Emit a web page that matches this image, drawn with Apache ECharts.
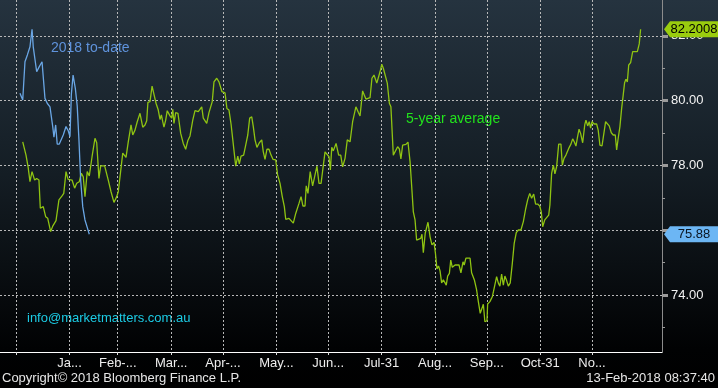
<!DOCTYPE html>
<html>
<head>
<meta charset="utf-8">
<script src="https://cdn.jsdelivr.net/npm/echarts@6/dist/echarts.min.js"></script>
<style>
html,body{margin:0;padding:0;background:#000;}
#c{width:718px;height:388px;}
</style>
</head>
<body>
<div id="c"></div>
<script>
// x = day of year (0 = Dec-31 of prior year)
const monthEndDays = [0, 31, 59, 90, 120, 151, 181, 212, 243, 273, 304, 334];
const monthLabels = ['', 'Ja...', 'Feb-...', 'Mar...', 'Apr-...', 'May...', 'Jun...', 'Jul-31', 'Aug...', 'Sep...', 'Oct-31', 'No...'];
const yMajor = [74, 76, 78, 80, 82];
const yLabelValues = [74, 78, 80, 82];
const yMinor = [73, 75, 77, 79, 81];

// 5-year average
const avgDays = [
3.9,5.8,7.0,8.1,9.3,10.8,12.0,13.3,
14.1,15.8,17.2,18.4,19.1,20.1,21.3,23.2,
24.9,26.7,27.7,29.0,30.2,31.3,32.5,34.0,
35.2,36.7,37.9,39.0,40.0,41.3,42.5,44.1,
45.8,46.8,48.1,49.1,51.4,53.5,55.1,56.8,
58.4,59.3,60.3,61.9,63.8,65.1,66.7,67.7,
69.0,70.3,71.9,73.5,74.8,75.8,76.5,77.7,
78.9,80.0,81.2,82.5,83.5,84.3,85.1,85.8,
86.8,87.7,89.3,90.3,90.9,91.6,92.6,93.9,
95.5,97.0,98.4,99.6,100.9,102.5,103.8,105.7,
107.7,108.6,110.6,111.9,112.9,113.8,114.8,116.4,
117.7,118.7,119.4,121.2,122.3,123.5,124.7,125.8,
127.4,128.6,129.5,130.5,132.0,133.2,134.4,135.5,
136.7,137.6,138.6,139.7,141.1,142.5,143.4,144.4,
145.5,146.7,147.9,149.0,150.6,151.7,153.1,154.4,
155.6,156.4,158.3,159.3,160.8,162.2,163.3,164.1,
165.3,166.4,167.6,168.3,169.3,170.6,172.0,173.4,
174.5,175.7,176.9,179.2,180.3,181.5,182.3,183.1,
184.0,185.6,187.1,188.3,189.4,190.8,192.1,193.7,
195.2,197.1,198.5,199.5,201.0,202.9,205.3,206.4,
207.6,209.2,210.3,211.1,212.1,213.0,214.0,215.3,
216.5,217.4,218.8,219.8,221.3,222.3,223.2,224.2,
226.1,227.3,228.5,229.4,230.4,231.4,232.3,233.3,
234.7,235.4,236.2,237.3,238.9,240.1,241.2,242.4,
243.2,244.1,245.0,245.9,246.8,247.8,248.8,249.5,
250.3,251.3,252.1,253.0,254.6,255.5,256.9,258.0,
259.2,259.9,260.9,261.9,263.3,264.2,265.8,267.1,
268.1,269.2,270.0,271.0,271.9,273.1,273.5,274.8,
276.2,277.3,278.7,279.7,280.6,281.6,282.6,283.5,
284.5,285.5,286.6,287.8,288.9,290.1,291.3,292.8,
294.2,295.5,296.7,297.9,299.0,300.2,301.3,302.5,
303.7,304.6,305.4,306.6,307.7,308.9,309.6,310.6,
311.6,312.5,313.5,314.7,316.0,316.8,317.8,318.9,
319.9,320.8,321.8,322.8,323.7,324.7,325.5,326.5,
327.4,328.6,329.8,330.5,331.5,332.4,333.2,334.0,
335.2,336.7,337.6,338.6,339.8,340.9,341.9,342.9,
344.0,345.2,346.3,347.5,348.3,349.2,350.2,351.2,
352.1,352.9,353.7,354.5,355.3,356.4,357.6,358.9,
360.3,361.4,362.2
];
const avgValues = [
78.73,78.32,77.96,77.50,77.81,77.55,77.60,77.55,
76.68,76.73,76.42,76.37,76.37,75.96,76.13,76.30,
76.94,77.06,77.14,77.81,77.57,77.60,77.55,77.30,
77.45,77.50,77.76,77.65,77.04,77.81,77.68,78.27,
78.84,78.70,77.60,77.99,77.99,77.55,77.19,76.86,
77.04,77.19,77.24,78.38,78.25,78.73,79.25,78.94,
79.09,79.35,79.61,79.18,79.25,79.38,79.95,79.97,
80.45,80.41,79.92,79.71,79.42,79.56,79.35,79.18,
79.40,79.69,79.53,79.46,79.73,79.30,79.63,79.61,
78.99,78.68,78.50,78.76,78.91,79.40,79.69,79.66,
79.81,79.46,79.30,79.63,79.69,79.97,80.58,80.69,
80.58,80.61,80.28,80.24,79.76,79.71,79.28,79.28,
77.98,78.29,78.05,78.29,78.32,78.63,78.94,79.46,
79.50,79.20,78.79,78.56,78.70,78.79,78.42,78.19,
78.50,78.50,78.32,78.19,78.17,77.71,77.45,77.04,
76.73,76.34,76.37,76.42,76.22,76.52,76.47,76.83,
77.04,76.75,76.75,77.37,77.14,77.81,77.37,77.71,
77.98,77.45,77.45,78.42,78.38,78.27,77.86,78.56,
78.45,78.68,78.32,78.32,77.96,78.22,78.79,78.73,
79.35,79.81,79.64,79.53,80.30,80.05,80.09,80.69,
80.79,80.54,80.57,80.89,81.12,81.00,80.98,80.54,
79.92,79.81,78.32,78.30,78.58,78.51,78.20,78.63,
78.65,78.72,78.12,77.40,76.57,76.32,75.70,75.65,
75.75,75.88,75.31,75.91,76.25,75.80,75.55,75.63,
75.30,74.81,74.90,74.75,74.38,74.47,74.38,74.31,
74.59,74.67,75.08,74.86,74.93,74.96,74.93,74.69,
75.03,74.93,75.14,75.08,75.14,74.69,74.47,74.16,
73.80,73.44,73.39,73.72,73.18,73.21,73.73,73.80,
73.95,74.00,74.57,74.37,74.28,74.65,74.31,74.59,
74.45,74.28,74.38,74.98,75.60,75.93,76.01,76.01,
76.27,76.65,76.94,77.14,76.99,77.12,76.81,76.81,
76.75,76.57,76.11,76.32,76.32,76.47,76.78,77.76,
78.01,77.74,77.96,78.66,78.66,78.01,78.22,78.32,
78.38,78.56,78.66,78.82,78.73,78.60,78.84,79.12,
78.99,78.70,79.25,79.40,79.22,79.35,79.15,79.35,
79.28,79.28,79.09,78.63,78.60,78.99,79.35,79.35,
79.22,79.01,78.94,78.94,78.48,78.84,79.20,79.76,
80.17,80.55,80.66,80.58,81.10,81.17,81.51,81.51,
81.51,81.75,82.2008
];

// 2018 to-date
const ytdDays = [2.3,3.9,5.2,6.6,8.1,9.3,10.0,12.0,13.5,15.1,16.8,18.1,19.7,21.3,22.0,23.0,23.9,25.1,27.4,29.0,30.3,31.3,32.1,33.1,34.4,35.5,36.5,37.5,38.7,40.0,41.3,42.5];
const ytdValues = [80.23,80.02,81.20,81.41,81.66,82.20,81.66,80.89,81.05,81.20,80.07,79.92,79.81,79.20,78.87,79.25,78.66,78.66,78.94,79.20,79.07,78.89,80.20,80.79,80.38,79.83,78.79,77.55,76.73,76.32,76.09,75.88];

const X_MIN = -9.28, X_MAX = 374.6;
const Y_MIN = 72.247, Y_MAX = 83.104;
const FONT = '"Liberation Sans", Arial, sans-serif';

const avgData = avgDays.map((d, i) => [d, avgValues[i]]);
const ytdData = ytdDays.map((d, i) => [d, ytdValues[i]]);
const avgLast = avgValues[avgValues.length - 1];
const ytdLast = ytdValues[ytdValues.length - 1];

const tagPath = 'path://M0,8 L6,0 L54,0 L54,16 L6,16 Z';
function endTag(value, text, fill, textColor) {
  return {
    symbol: tagPath,
    symbolSize: [54, 16],
    symbolKeepAspect: false,
    symbolOffset: [29, 0],
    silent: true,
    data: [{ coord: [X_MAX, value], value: text }],
    itemStyle: { color: fill },
    label: { show: true, position: 'inside', offset: [3, 0], color: textColor, fontSize: 13, fontFamily: FONT, formatter: '{c}' }
  };
}

const dash = { color: '#b8b8b8', width: 1, type: [2, 2] };

const chart = echarts.init(document.getElementById('c'), null, { renderer: 'canvas' });
chart.setOption({
  animation: false,
  backgroundColor: {
    type: 'linear', x: 0, y: 0, x2: 0, y2: 1,
    colorStops: [
      { offset: 0, color: '#25333f' },
      { offset: 0.45, color: '#141d24' },
      { offset: 0.9, color: '#010203' },
      { offset: 1, color: '#000000' }
    ]
  },
  grid: { left: 0, right: 56, top: 0, bottom: 36, containLabel: false },
  xAxis: {
    type: 'value', min: X_MIN, max: X_MAX,
    axisLine: { show: true, onZero: false, lineStyle: { color: '#ffffff', width: 1.2 } },
    axisTick: { show: true, customValues: monthEndDays, length: 3, lineStyle: { color: '#dddddd' } },
    axisLabel: {
      customValues: monthEndDays.slice(1),
      formatter: v => monthLabels[monthEndDays.indexOf(v)] || '',
      color: '#eeeeee', fontSize: 13, fontFamily: FONT, margin: 5
    },
    splitLine: { show: true, lineStyle: dash }
  },
  yAxis: [
    {
      type: 'value', position: 'right', min: Y_MIN, max: Y_MAX,
      axisLine: { show: true, onZero: false, lineStyle: { color: '#8c8c8c', width: 1 } },
      axisTick: { show: true, customValues: yMajor, length: 6, lineStyle: { color: '#9a9a9a', width: 3 } },
      axisLabel: { customValues: yLabelValues, formatter: v => v.toFixed(2), color: '#f2f2f2', fontSize: 13, fontFamily: FONT, margin: 9 },
      splitLine: { show: true, lineStyle: dash }
    },
    {
      type: 'value', position: 'right', min: Y_MIN, max: Y_MAX,
      axisLine: { show: false, onZero: false },
      axisTick: { show: true, customValues: yMinor, length: 3, lineStyle: { color: '#9a9a9a', width: 1 } },
      axisLabel: { show: false },
      splitLine: { show: false }
    }
  ],
  series: [
    {
      name: '5-year average', type: 'line', data: avgData, yAxisIndex: 0,
      showSymbol: false, symbol: 'none',
      lineStyle: { color: '#8fc412', width: 1.3 },
      markPoint: endTag(avgLast, avgLast.toFixed(4), '#9acd0e', '#000000'),
      z: 3
    },
    {
      name: '2018 to-date', type: 'line', data: ytdData, yAxisIndex: 0,
      showSymbol: false, symbol: 'none',
      lineStyle: { color: '#6aa6e4', width: 1.3 },
      markPoint: endTag(ytdLast, ytdLast.toFixed(2), '#6cb6f4', '#0b1622'),
      z: 4
    }
  ],
  graphic: [
    { type: 'text', left: 51, top: 41, style: { text: '2018 to-date', fill: '#5f93dc', font: '14px ' + FONT } },
    { type: 'text', left: 406, top: 112, style: { text: '5-year average', fill: '#22e41c', font: '14px ' + FONT } },
    { type: 'text', left: 27, top: 312, style: { text: 'info@marketmatters.com.au', fill: '#1ccbe4', font: '13px ' + FONT } },
    { type: 'text', left: 2, top: 372, style: { text: 'Copyright\u00a9 2018 Bloomberg Finance L.P.', fill: '#e6e6e6', font: '13px ' + FONT } },
    { type: 'text', right: 3, top: 372, style: { text: '13-Feb-2018 08:37:40', fill: '#e6e6e6', font: '13px ' + FONT } }
  ]
});
</script>
</body>
</html>
